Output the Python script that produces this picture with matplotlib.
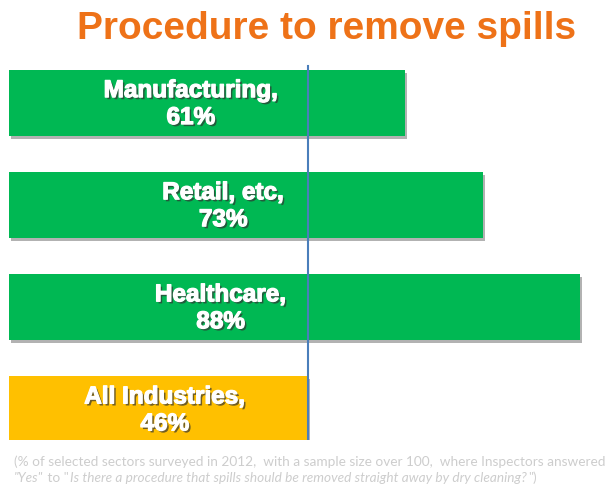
import matplotlib

matplotlib.use("Agg")
import matplotlib.pyplot as plt
import matplotlib.patheffects as pe

sectors = ["Manufacturing", "Retail, etc", "Healthcare", "All Industries"]
percent = [61, 73, 88, 46]
bar_colors = ["#00B853", "#00B853", "#00B853", "#FFC000"]
label_x = [28, 33, 32.6, 24]  # where the text sits inside each bar
reference = 46

title = "Procedure to remove spills"
note_line1 = ("(% of selected sectors surveyed in 2012,  with a sample size over 100,  "
              "where Inspectors answered")
note_line2 = [('"Yes"', "italic"), (' to "', "normal"),
              ("Is there a procedure that spills should be removed straight away by dry cleaning?", "italic"),
              ('")', "normal")]

plt.rcParams["font.family"] = ["Liberation Sans", "DejaVu Sans"]

fig = plt.figure(figsize=(6.1, 4.9), dpi=100)
fig.patch.set_facecolor("white")
ax = fig.add_axes([9 / 610, 1 - 440 / 490, 1 - 9 / 610, 403 / 490])

pos = range(len(sectors))
bars = ax.barh(pos, percent, height=0.65, color=bar_colors, edgecolor="none")
for b in bars:
    b.set_path_effects([pe.SimplePatchShadow(offset=(1.5, -2), shadow_rgbFace="#666666", alpha=0.5),
                        pe.Normal()])

for i, (name, v) in enumerate(zip(sectors, percent)):
    ax.text(label_x[i], i + 0.01, f"{name},\n{v}%", ha="center", va="center", color="white",
            fontsize=17.5, fontweight="bold", linespacing=1.22,
            path_effects=[pe.SimplePatchShadow(offset=(1.5, -1.5), shadow_rgbFace="#333333",
                                               alpha=0.7),
                          pe.withStroke(linewidth=0.9, foreground="white")])

# the reference line starts just above the first bar
ax.axvline(reference, color="#4A7EBB", lw=1.5, ymin=0, ymax=0.928)
ax.set_xlim(0, 601 / 6.49)
ax.set_ylim(3.30, -0.647)
ax.axis("off")

fig.text(0.535, 0.941, title, ha="center", va="center", color="#EE7218",
         fontsize=28, fontweight="bold")

grey = "#CDCDCD"
fig.text(14 / 610, 1 - 462 / 490, note_line1, ha="left", va="center", color=grey,
         fontsize=9.8, family="Lato")

fig.canvas.draw()
renderer = fig.canvas.get_renderer()
x = 14
for piece, style in note_line2:
    t = fig.text(x / 610, 1 - 478 / 490, piece, ha="left", va="center", color=grey,
                 fontsize=9.8, family="Lato", style=style)
    x = t.get_window_extent(renderer).x1 + 1

fig.savefig("out.png", dpi=100)
